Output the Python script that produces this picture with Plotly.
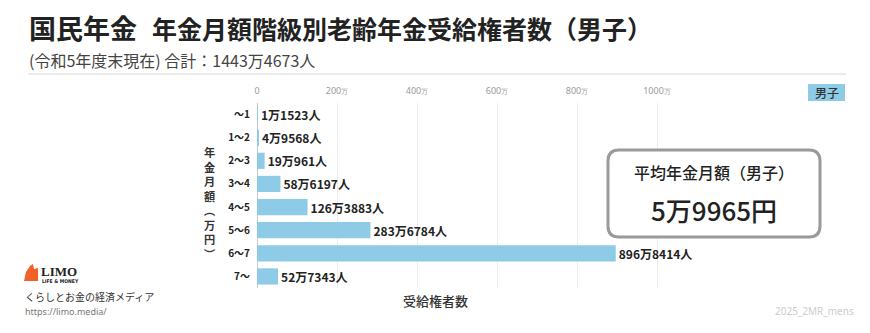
import plotly.graph_objects as go

# Monthly pension brackets (万円) and number of male recipients
brackets = ["～1", "1～2", "2～3", "3～4", "4～5", "5～6", "6～7", "7～"]
recipients = [11523, 49568, 190961, 586197, 1263883, 2836784, 8968414, 527343]

tick_values = [0, 200, 400, 600, 800, 1000]
tick_labels = ["0", "200", "400", "600", "800", "1000"]

W, H = 870, 333
ML, MR, MT, MB = 257, 209, 103, 45
PW, PH = W - ML - MR, H - MT - MB

JP = "Noto Sans CJK JP"
BAR = "#8ecbe6"
DARK = "#222222"


def px(x, y):
    """Pixel position in the page -> paper coordinates."""
    return (x - ML) / PW, (H - MB - y) / PH


def man_label(n):
    man, rest = divmod(n, 10000)
    return f"{man}万{rest}人" if man else f"{rest}人"


total = sum(recipients)
values_man = [v / 10000 for v in recipients]

fig = go.Figure(
    go.Bar(
        y=brackets,
        x=values_man,
        orientation="h",
        marker=dict(color=BAR, line=dict(width=0)),
        text=[man_label(v) for v in recipients],
        textposition="outside",
        textfont=dict(family=JP, size=12, color=DARK, weight=700),
        cliponaxis=False,
        constraintext="none",
        hoverinfo="skip",
    )
)

annotations = []
shapes = []


def note(x, y, text, size, color=DARK, anchor="left", weight=400, family=JP, valign="middle"):
    xp, yp = px(x, y)
    annotations.append(dict(
        xref="paper", yref="paper", x=xp, y=yp, text=text, showarrow=False,
        xanchor=anchor, yanchor=valign,
        font=dict(family=family, size=size, color=color, weight=weight),
    ))


# Title block
note(27, 27, "国民年金", 27, weight=700)
note(150, 28, "年金月額階級別老齢年金受給権者数（男子）", 25, weight=700)
note(27, 60, f"(令和5年度末現在) 合計：{man_label(total)}", 16, color="#444444")
x0, y0 = px(28, 74)
x1, _ = px(846, 74)
shapes.append(dict(type="line", xref="paper", yref="paper", x0=x0, x1=x1, y0=y0, y1=y0,
                   line=dict(color="#d8d8d8", width=1)))

# Series tag
bx0, by0 = px(808, 101)
bx1, by1 = px(845, 84)
shapes.append(dict(type="rect", xref="paper", yref="paper", x0=bx0, x1=bx1, y0=by0, y1=by1,
                   fillcolor=BAR, line=dict(width=0)))
note(826.5, 92.5, "男子", 12, color="#333333", anchor="center", weight=500)

# Vertical category-axis title, one glyph per line
note(210, 203, "<br>".join(list("年金月額") + ["︵", "万", "円", "︶"]), 11.2,
     color="#333333", anchor="center", weight=700)

# Value-axis title
note(435, 300, "受給権者数", 13, color="#333333", anchor="center", weight=500)

# Average monthly pension box
rx0, ry0, rx1, ry1, rad = 608, 150, 820, 237, 11
def P(x, y):
    a, b = px(x, y)
    return f"{a:.5f},{b:.5f}"
path = (f"M {P(rx0 + rad, ry0)} L {P(rx1 - rad, ry0)} Q {P(rx1, ry0)} {P(rx1, ry0 + rad)} "
        f"L {P(rx1, ry1 - rad)} Q {P(rx1, ry1)} {P(rx1 - rad, ry1)} "
        f"L {P(rx0 + rad, ry1)} Q {P(rx0, ry1)} {P(rx0, ry1 - rad)} "
        f"L {P(rx0, ry0 + rad)} Q {P(rx0, ry0)} {P(rx0 + rad, ry0)} Z")
shapes.append(dict(type="path", xref="paper", yref="paper", path=path,
                   fillcolor="white", line=dict(color="#9a9a9a", width=3), layer="above"))
note(714, 172, "平均年金月額（男子）", 16, anchor="center", weight=500)
note(714, 209, "5万9965円", 26, anchor="center", weight=500)

# Brand mark and footer
logo = [(24, 281), (26, 272), (30, 266), (33, 264), (34, 269), (38, 268), (38, 281)]
lp = "M " + " L ".join(P(x, y) for x, y in logo) + " Z"
shapes.append(dict(type="path", xref="paper", yref="paper", path=lp,
                   fillcolor="#f0622a", line=dict(width=0)))
note(39, 271, "LIMO", 13, color="#222222", weight=700, family="Liberation Serif")
note(40, 280.5, "LIFE &amp; MONEY", 5, color="#222222", weight=700, family="DejaVu Sans Condensed")
note(23, 296, "くらしとお金の経済メディア", 10, color="#333333")
note(23, 311, "https://limo.media/", 9, color="#777777", family="Noto Sans")
note(856, 311, "2025_2MR_mens", 10, color="#cccccc", anchor="right", family="Noto Sans")

fig.update_layout(
    width=W, height=H,
    margin=dict(l=ML, r=MR, t=MT, b=MB, pad=0),
    paper_bgcolor="white", plot_bgcolor="white",
    bargap=0.3,
    showlegend=False,
    annotations=annotations,
    shapes=shapes,
    xaxis=dict(
        range=[0, 1010], side="top",
        tickvals=tick_values,
        ticktext=[t if t == "0" else f"{t}<span style='font-size:7px'>万</span>" for t in tick_labels],
        tickfont=dict(family="Noto Sans", size=9, color="#9a9a9a"),
        showgrid=True, gridcolor="#ececec", gridwidth=1,
        zeroline=True, zerolinecolor="#c8c8c8", zerolinewidth=1,
        showline=False, ticks="", ticklabelstandoff=6,
        fixedrange=True,
    ),
    yaxis=dict(
        categoryorder="array", categoryarray=brackets, autorange="reversed",
        tickfont=dict(family=JP, size=10, color=DARK, weight=700),
        showgrid=False, zeroline=False, showline=False, ticks="",
        ticklabelstandoff=6, fixedrange=True,
    ),
    font=dict(family=JP),
)

fig.write_html("out.html", config={"displayModeBar": False})
